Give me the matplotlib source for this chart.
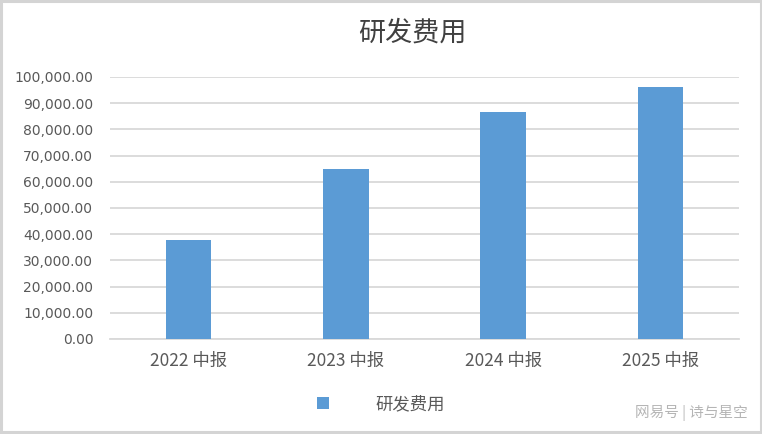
import matplotlib
matplotlib.use('Agg')
import matplotlib.pyplot as plt
from matplotlib.patches import Rectangle
from matplotlib.ticker import FuncFormatter

plt.rcParams['font.family'] = ['DejaVu Sans', 'Noto Sans CJK SC']

categories = ['2022 中报', '2023 中报', '2024 中报', '2025 中报']
rd_cost = [37700, 64900, 86700, 96300]
series_name = '研发费用'
yticks = [0, 10000, 20000, 30000, 40000, 50000, 60000, 70000, 80000, 90000, 100000]

bar_color = '#5b9bd5'
grid_color = '#d9d9d9'
text_color = '#595959'

fig = plt.figure(figsize=(7.62, 4.34), dpi=100)
ax = fig.add_axes([0.1444, 0.2189, 0.8254, 0.6037])

x = range(len(categories))
ax.bar(x, rd_cost, width=0.29, color=bar_color, label=series_name, zorder=3)

ax.set_xlim(-0.5, len(categories) - 0.5)
ax.set_ylim(0, 100000)
ax.set_yticks(yticks)
ax.yaxis.set_major_formatter(FuncFormatter(lambda v, p: f'{v:,.2f}'))
ax.set_xticks(list(x))
ax.set_xticklabels(categories, family=['Noto Sans CJK SC', 'DejaVu Sans'],
                   fontsize=12.5, color=text_color)
ax.tick_params(axis='y', length=0, pad=12, labelsize=10, labelcolor=text_color)
ax.tick_params(axis='x', length=0, pad=9.5)

ax.grid(axis='y', color=grid_color, linewidth=1.3, zorder=0)
for side in ['top', 'right', 'left']:
    ax.spines[side].set_visible(False)
ax.spines['bottom'].set_color(grid_color)
ax.spines['bottom'].set_linewidth(1.3)

fig.text(412 / 762, 1 - 33 / 434, series_name, ha='center', va='center',
         fontsize=19.5, color='#404040', family=['Noto Sans CJK SC'])

leg = ax.legend(loc='center', bbox_to_anchor=(381 / 762, 1 - 404 / 434),
                bbox_transform=fig.transFigure, frameon=False,
                handlelength=0.7, handleheight=0.7, handletextpad=2.7,
                prop={'family': 'Noto Sans CJK SC', 'size': 12.5})
for t in leg.get_texts():
    t.set_color(text_color)

fig.text(748 / 762, 1 - 413 / 434, '网易号 | 诗与星空', ha='right', va='center',
         fontsize=10.5, color='#b5b5b5', family=['Noto Sans CJK SC'])

# thin grey frame around the whole figure
fig.patches.append(Rectangle((0.0013, 0.0035), 0.9974, 0.9942, transform=fig.transFigure,
                             fill=False, edgecolor='#d4d4d4', linewidth=2.2))

fig.savefig('out.png', dpi=100)
